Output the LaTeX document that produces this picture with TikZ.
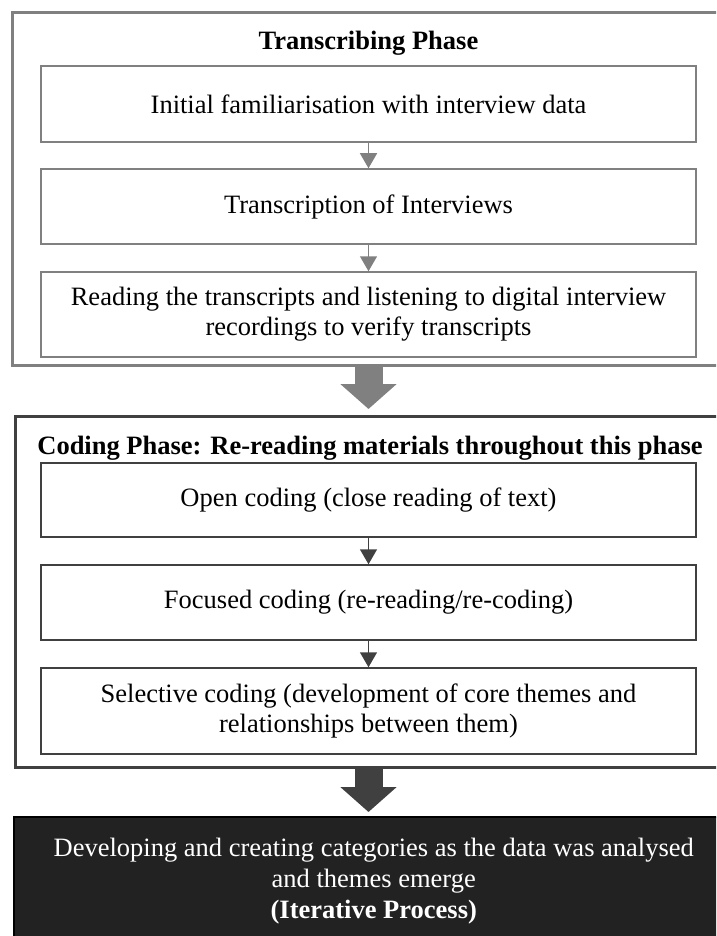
\documentclass[tikz,border=0pt]{standalone}
\usepackage{fontspec}
\setmainfont{Liberation Serif}
\usetikzlibrary{arrows.meta,positioning}
\definecolor{transcol}{RGB}{128,128,128}
\definecolor{codecol}{RGB}{64,64,64}
\definecolor{iterfill}{RGB}{34,34,34}

\begin{document}
\begin{tikzpicture}[x=1pt, y=-1pt,
    >={Triangle[length=15pt,width=17pt]},
    phase/.style={rectangle, draw, line width=3pt, anchor=north west, minimum width=720pt, inner sep=0pt},
    stepbox/.style={rectangle, draw, line width=1.5pt, minimum width=655pt, align=center, font=\fontsize{26.5}{30}\selectfont, fill=white},
    phasetitle/.style={font=\fontsize{26.5}{30}\selectfont\bfseries},
    bigarrow/.style={line width=28pt, -{Triangle[length=25pt,width=55pt]}},
]
\clip (0,0) rectangle (716,936);

% transcribing phase
\node[phase, draw=transcol, minimum height=352pt] (tphase) at (10.5,11.5) {};
\node[phasetitle] (ttitle) at (368.5,43) {Transcribing Phase};
\node[stepbox, draw=transcol, minimum height=76pt] (t1) at (368.5,104) {Initial familiarisation with interview data};
\node[stepbox, draw=transcol, minimum height=75pt] (t2) at (368.5,206.5) {Transcription of Interviews};
\node[stepbox, draw=transcol, minimum height=85pt] (t3) at (368.5,314.5) {Reading the transcripts and listening to digital interview\\recordings to verify transcripts};
\draw[->, transcol, line width=1.5pt] (t1) -- (t2);
\draw[->, transcol, line width=1.5pt] (t2) -- (t3);

% coding phase
\node[phase, draw=codecol, minimum height=351pt] (cphase) at (13.5,415) {};
\node[phasetitle] (ctitle) at (370,448) {Coding Phase: Re-reading materials throughout this phase};
\node[stepbox, draw=codecol, minimum height=74pt] (c1) at (368.5,500) {Open coding (close reading of text)};
\node[stepbox, draw=codecol, minimum height=75pt] (c2) at (368.5,602.5) {Focused coding (re-reading/re-coding)};
\node[stepbox, draw=codecol, minimum height=86pt] (c3) at (368.5,711) {Selective coding (development of core themes and\\relationships between them)};
\draw[->, codecol, line width=1.5pt] (c1) -- (c2);
\draw[->, codecol, line width=1.5pt] (c2) -- (c3);

% iterative process
\node[rectangle, draw=black, line width=1.5pt, fill=iterfill, text=white, anchor=north west, minimum width=720pt, minimum height=128pt, align=center, font=\fontsize{26.5}{31}\selectfont] (iter) at (13,816) {Developing and creating categories as the data was analysed\\and themes emerge\\\textbf{(Iterative Process)}};

\draw[bigarrow, transcol, shorten >=6pt] (tphase.south -| t3.south) -- (cphase.north -| t3.south);
\draw[bigarrow, codecol, shorten >=4pt] (cphase.south -| c3.south) -- (iter.north -| c3.south);
\end{tikzpicture}
\end{document}
